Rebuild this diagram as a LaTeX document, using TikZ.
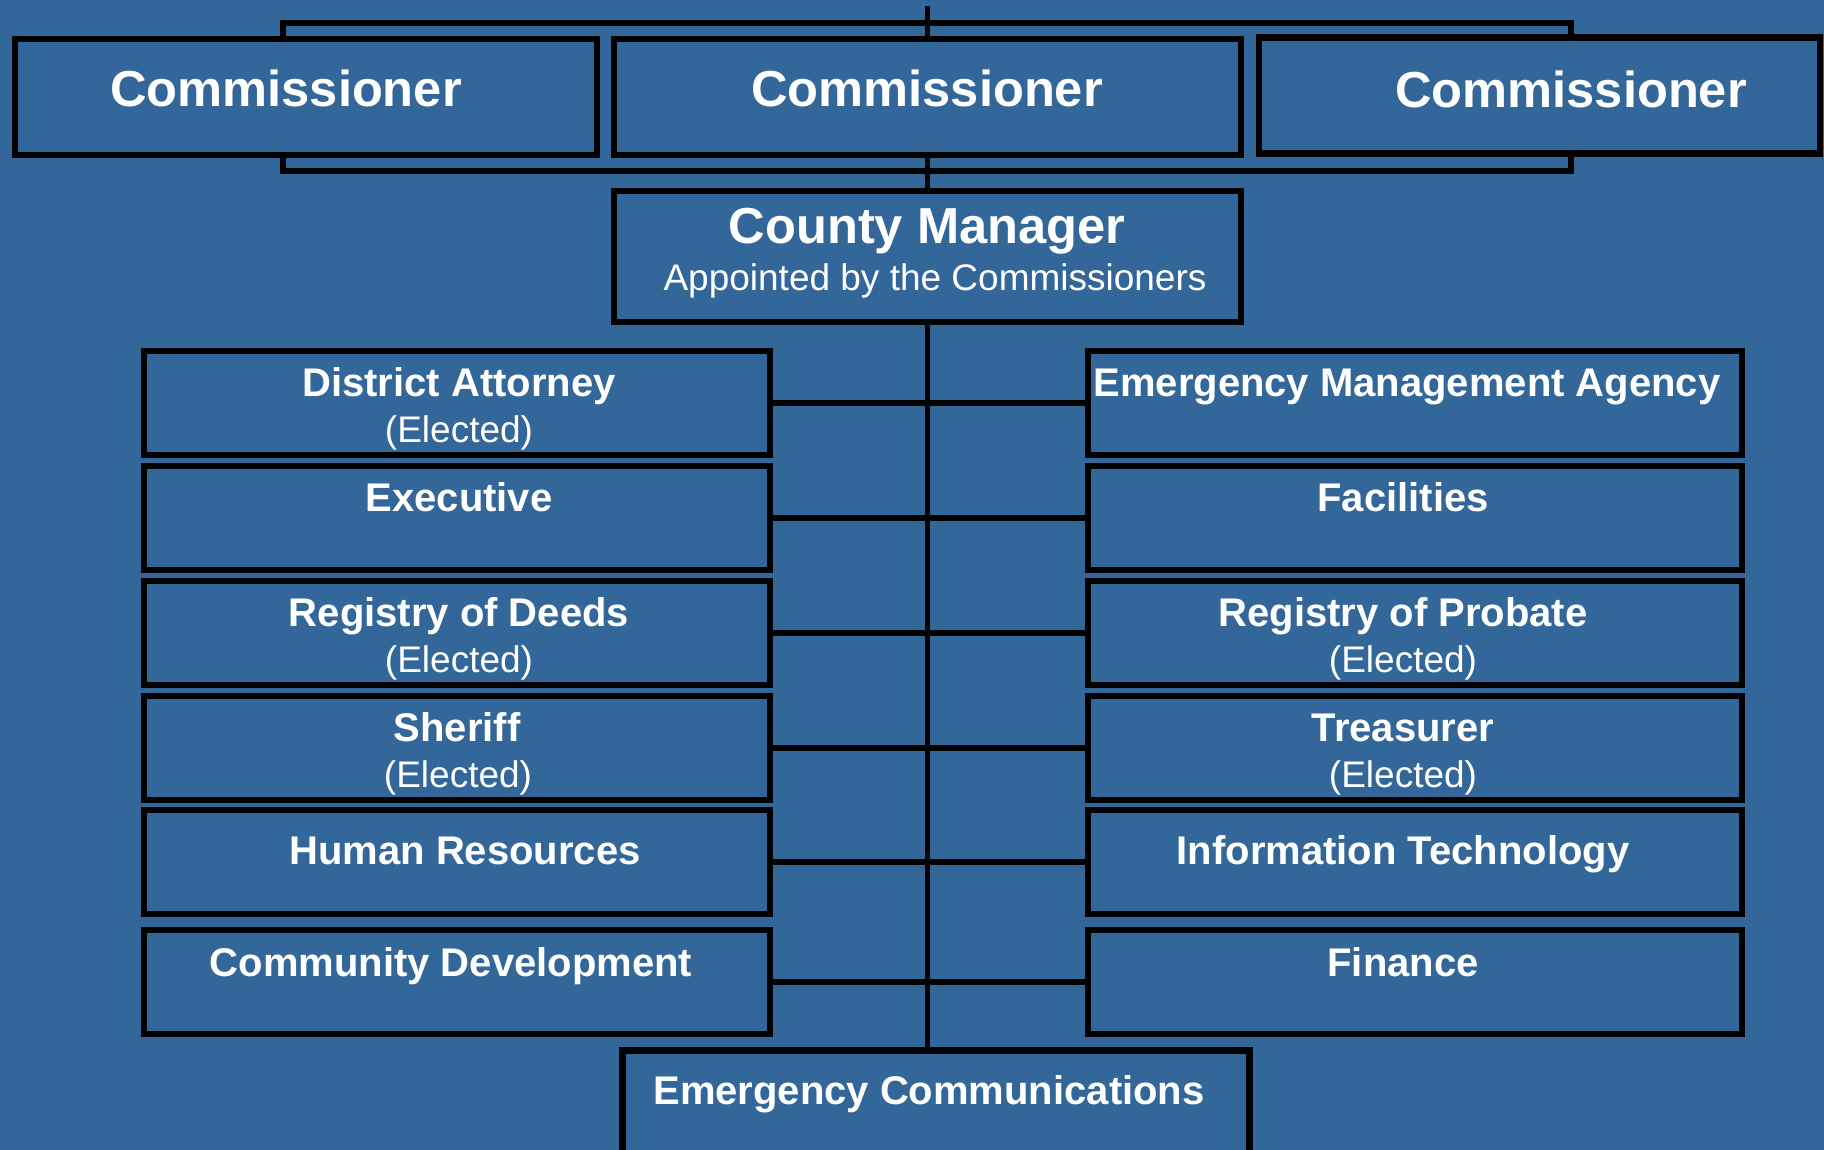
\documentclass[tikz,border=0pt]{standalone}
\usepackage{fontspec}
\setmainfont{Liberation Sans}
\definecolor{orgblue}{HTML}{336699}
\tikzset{
  box/.style={draw=black, line width=3.2pt, fill=orgblue, inner sep=0pt},
  comm/.style={box, minimum height=58pt},
  dept/.style={box, minimum height=52pt},
  link/.style={draw=black, line width=2.8pt},
  head/.style={text=white, anchor=base, inner sep=0pt, font=\bfseries\fontsize{25.3}{30}\selectfont},
  title/.style={text=white, anchor=base, inner sep=0pt, font=\bfseries\fontsize{20}{24}\selectfont},
  note/.style={text=white, anchor=base, inner sep=0pt, font=\fontsize{18.5}{22}\selectfont},
}
\begin{document}
\begin{tikzpicture}[x=0.5pt, y=-0.5pt]
\fill[orgblue] (0,0) rectangle (1824,1150);
\useasboundingbox (0,0) rectangle (1824,1150);

%% bars round the commissioners
\coordinate (apex) at (927.5,6);
\coordinate (tl) at (283,23);
\coordinate (tr) at (1571,23);
\coordinate (bl) at (283,171);
\coordinate (br) at (1571,171);

\node[comm, minimum width=291pt]   (c1)  at (306,97)     {};
\node[comm, minimum width=313.5pt] (c2)  at (927.5,97)   {};
\node[comm, minimum width=280.5pt] (c3)  at (1539.5,95.5) {};
\node[box, minimum width=313.5pt, minimum height=65.5pt] (mgr) at (927.5,256.5) {};
\node[box, minimum width=313.5pt, minimum height=100pt]  (ec)  at (936,1150.5) {};

% left column
\node[dept, minimum width=313pt] (da)      at (457,403) {};
\node[dept, minimum width=313pt] (exec)    at (457,518) {};
\node[dept, minimum width=313pt] (deeds)   at (457,633) {};
\node[dept, minimum width=313pt] (sheriff) at (457,748) {};
\node[dept, minimum width=313pt] (hr)      at (457,862) {};
\node[dept, minimum width=313pt] (cd)      at (457,982) {};
% right column
\node[dept, minimum width=327pt] (ema)     at (1415,403) {};
\node[dept, minimum width=327pt] (fac)     at (1415,518) {};
\node[dept, minimum width=327pt] (probate) at (1415,633) {};
\node[dept, minimum width=327pt] (treas)   at (1415,748) {};
\node[dept, minimum width=327pt] (it)      at (1415,862) {};
\node[dept, minimum width=327pt] (fin)     at (1415,982) {};

% lines
\draw[link] (tl |- c1.north) -- (tl) -- (tr) -- (tr |- c3.north);
\draw[link] (bl |- c1.south) -- (bl) -- (br) -- (br |- c3.south);
\draw[link] (apex) -- (c2.north);
\draw[link] (c2.south) -- (mgr.north);
\draw[link] (mgr.south) -- (mgr.south |- ec.north);
\foreach \l/\r in {da/ema, exec/fac, deeds/probate, sheriff/treas, hr/it, cd/fin}
  \draw[link] (\l.east) -- (\r.west);

% texts
\node[head] (c1T) at (286,107)  {Commissioner};
\node[head] (c2T) at (927,107)  {Commissioner};
\node[head] (c3T) at (1571,108) {Commissioner};
\node[head] (mgrT) at (927,243) {County Manager};
\node[note] (mgrS) at (935,290) {Appointed by the Commissioners};

\node[title] (daT)      at (459,396) {District Attorney};
\node[note]  (daS)      at (459,442) {(Elected)};
\node[title] (execT)    at (459,511) {Executive};
\node[title] (deedsT)   at (459,626) {Registry of Deeds};
\node[note]  (deedsS)   at (459,672) {(Elected)};
\node[title] (sheriffT) at (457,741) {Sheriff};
\node[note]  (sheriffS) at (458,787) {(Elected)};
\node[title] (hrT)      at (465,864) {Human Resources};
\node[title] (cdT)      at (451,976) {Community Development};

\node[title] (emaT)     at (1407,396) {Emergency Management Agency};
\node[title] (facT)     at (1403,511) {Facilities};
\node[title] (probateT) at (1403,626) {Registry of Probate};
\node[note]  (probateS) at (1403,672) {(Elected)};
\node[title] (treasT)   at (1403,741) {Treasurer};
\node[note]  (treasS)   at (1403,787) {(Elected)};
\node[title] (itT)      at (1403,864) {Information Technology};
\node[title] (finT)     at (1403,976) {Finance};

\node[title] (ecT) at (929,1104) {Emergency Communications};
\end{tikzpicture}
\end{document}
